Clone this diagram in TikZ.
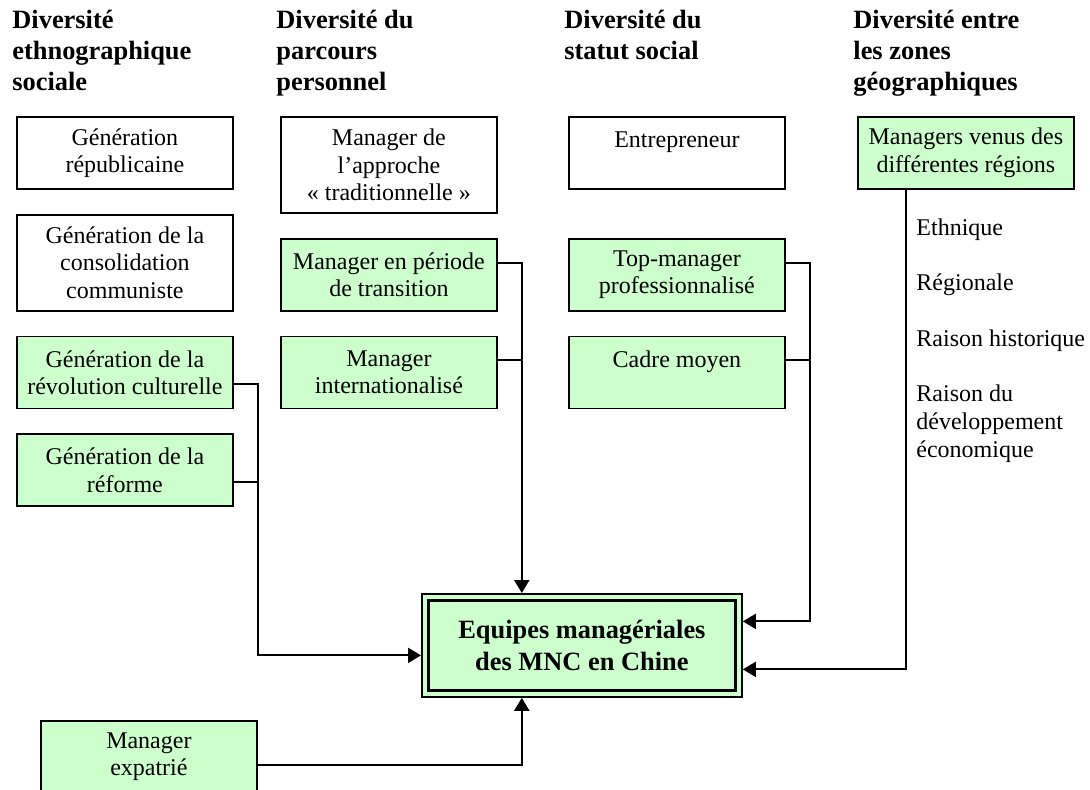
\documentclass[tikz,border=0pt]{standalone}
\usepackage{fontspec}
\setmainfont{Liberation Serif}
\usetikzlibrary{arrows.meta,positioning}

\definecolor{vertclair}{RGB}{204,255,204}

\tikzset{
  cadre/.style={draw,line width=0.9pt,minimum width=108pt,minimum height=36pt,
    inner sep=0pt,text width=106pt,align=flush center,
    font=\fontsize{12}{13.65}\selectfont},
  haut/.style={cadre,minimum height=48pt},
  vert/.style={fill=vertclair},
  titre/.style={anchor=base west,align=flush left,inner sep=0pt,
    font=\fontsize{13.2}{15.5}\selectfont\bfseries},
  lien/.style={line width=1pt},
}

\begin{document}
\begin{tikzpicture}[x=0.5pt,y=-0.5pt,>={Triangle[length=6.5pt,width=7.5pt]}]
\useasboundingbox (0,0) rectangle (1090,790);

% titres des colonnes (ancre sur la derniere ligne)
\node[titre] (t-ethno) at (12,91) {Diversité\\ethnographique\\sociale};
\node[titre] (t-parc) at (276,91) {Diversité du\\parcours\\personnel};
\node[titre] (t-stat) at (564,60) {Diversité du\\statut social};
\node[titre] (t-zone) at (853,91) {Diversité entre\\les zones\\géographiques};

% colonne 1
\node[cadre,anchor=north west] (gen1) at (16,116) {Génération\\républicaine};
\node[haut,below=12pt of gen1] (gen2) {Génération de la\\consolidation\\communiste};
\node[cadre,vert,below=12pt of gen2] (gen3) {Génération de la\\révolution culturelle};
\node[cadre,vert,below=12pt of gen3] (gen4) {Génération de la\\réforme};

% colonne 2
\node[haut,anchor=north west] (approche) at (280,116) {Manager de\\l’approche\\«~traditionnelle~»};
\node[cadre,vert,below=12pt of approche] (trans) {Manager en période\\de transition};
\node[cadre,vert,below=12pt of trans] (inter) {Manager\\internationalisé};

% colonne 3
\node[cadre,anchor=north west] (entr) at (568,116) {Entrepreneur\\\mbox{}};
\node[cadre,vert,below=24pt of entr] (topm) {Top-manager\\professionnalisé};
\node[cadre,vert,below=12pt of topm] (cadmoy) {Cadre moyen\\\mbox{}};

% colonne 4
\node[cadre,vert,anchor=north west] (regions) at (857,116) {Managers venus des\\différentes régions};
\node[anchor=base west,align=flush left,inner sep=0pt,font=\fontsize{12}{13.85}\selectfont]
  (raisons) at (916,457) {Ethnique\\ \\Régionale\\ \\Raison historique\\ \\Raison du\\développement\\économique};

\node[cadre,vert,anchor=north west] (expat) at (40,720) {Manager\\expatrié};

% equipes
\node[draw,line width=0.9pt,fill=vertclair,anchor=north west,minimum width=160pt,
  minimum height=51.5pt,align=flush center,font=\fontsize{13.2}{15.6}\selectfont\bfseries]
  (equipe) at (421,593) {Equipes managériales\\des MNC en Chine};
\draw[line width=1.6pt] ([shift={(3.6pt,-3.6pt)}]equipe.north west)
  rectangle ([shift={(-3.6pt,3.6pt)}]equipe.south east);

% liens
\draw[lien,->] ([yshift=-6pt]gen3.east) -- ++(12pt,0) |- ([yshift=-5pt]equipe.west);
\draw[lien] ([yshift=-6pt]gen4.east) -- ++(12pt,0);

\draw[lien,->] ([yshift=6pt]trans.east) -- ++(12pt,0) coordinate (t2) -- (t2 |- equipe.north);
\draw[lien] ([yshift=6pt]inter.east) -- ++(12pt,0);

\draw[lien,->] ([yshift=6pt]topm.east) -- ++(12pt,0) |- ([yshift=12pt]equipe.east);
\draw[lien] ([yshift=6pt]cadmoy.east) -- ++(12pt,0);

\draw[lien,->] ([xshift=-30pt]regions.south) |- ([yshift=-12pt]equipe.east);

\draw[lien,->] ([yshift=-4pt]expat.east) -| (t2 |- equipe.south);

\end{tikzpicture}
\end{document}
